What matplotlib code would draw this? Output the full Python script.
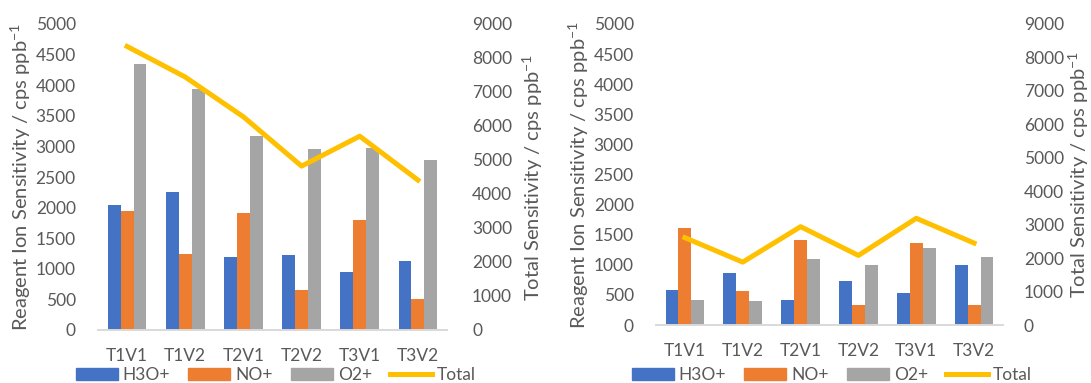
import matplotlib
matplotlib.use("Agg")
import matplotlib.pyplot as plt
import numpy as np
from matplotlib.lines import Line2D
from matplotlib.patches import Patch

# Sensibilités par configuration (cps/ppb)
categories = ["T1V1", "T1V2", "T2V1", "T2V2", "T3V1", "T3V2"]

h3o_a = [2050, 2260, 1190, 1220, 940, 1120]
no_a = [1940, 1250, 1910, 650, 1790, 510]
o2_a = [4350, 3930, 3170, 2950, 2970, 2780]
total_a = [8340, 7440, 6270, 4820, 5700, 4410]

h3o_b = [580, 870, 420, 730, 530, 990]
no_b = [1610, 560, 1420, 340, 1370, 340]
o2_b = [420, 400, 1090, 1000, 1280, 1130]
total_b = [2610, 1880, 2940, 2080, 3190, 2450]

couleurs = {"H3O+": "#4472C4", "NO+": "#ED7D31", "O2+": "#A5A5A5", "Total": "#FFC000"}
gris = "#595959"

plt.rcParams['font.family'] = ['Lato', 'DejaVu Sans']
plt.rcParams['mathtext.default'] = 'regular'
taille = 12.5
taille_titre = 14.5

W, H = 1091, 383
fig = plt.figure(figsize=(W / 100, H / 100), dpi=100)


def panneau(x0, x1, y_haut, y_bas, h3o, no, o2, total, leg_x, pad_ticks, pad_droite):
    ax = fig.add_axes([x0 / W, 1 - y_bas / H, (x1 - x0) / W, (y_bas - y_haut) / H])
    x = np.arange(len(categories))
    lw = 1 / 4.5
    ax.bar(x - lw, h3o, lw, color=couleurs["H3O+"])
    ax.bar(x, no, lw, color=couleurs["NO+"])
    ax.bar(x + lw, o2, lw, color=couleurs["O2+"])
    ax.set_xlim(-0.5, len(categories) - 0.5)
    ax.set_ylim(0, 5000)
    ax.set_yticks(np.arange(0, 5001, 500))
    ax.set_xticks(x)
    ax.set_xticklabels(categories)
    ax.set_ylabel("Reagent Ion Sensitivity / cps ppb$^{-1}$", color=gris,
                  fontsize=taille_titre, labelpad=2)

    ax2 = ax.twinx()
    ax2.plot(x, total, color=couleurs["Total"], lw=3.6, solid_joinstyle='round')
    ax2.set_ylim(0, 9000)
    ax2.set_yticks(np.arange(0, 9001, 1000))
    ax2.set_ylabel("Total Sensitivity / cps ppb$^{-1}$", color=gris,
                   fontsize=taille_titre, labelpad=pad_droite)

    for a in (ax, ax2):
        for s in ("top", "left", "right"):
            a.spines[s].set_visible(False)
        a.spines["bottom"].set_color("#D9D9D9")
        a.spines["bottom"].set_linewidth(1.2)
        a.tick_params(length=0, labelsize=taille, colors=gris)
    ax.tick_params(axis='x', pad=13)
    ax.tick_params(axis='y', pad=16)
    ax2.tick_params(axis='y', pad=pad_ticks)

    poignees = [Patch(color=couleurs["H3O+"]), Patch(color=couleurs["NO+"]),
                Patch(color=couleurs["O2+"]), Line2D([], [], color=couleurs["Total"], lw=3.6)]
    fig.legend(poignees, ["H3O+", "NO+", "O2+", "Total"], loc='center',
               bbox_to_anchor=(leg_x / W, 1 - 375 / H), ncol=4, frameon=False,
               fontsize=taille, labelcolor=gris, handlelength=2.4, handleheight=0.7,
               handletextpad=0.3, columnspacing=1.05, borderaxespad=0)
    return ax


panneau(98, 447, 24, 330, h3o_a, no_a, o2_a, total_a, 276, 18, 6)
panneau(656, 1003, 24, 325, h3o_b, no_b, o2_b, total_b, 832, 15, 2)

fig.savefig("out.png", dpi=100)
